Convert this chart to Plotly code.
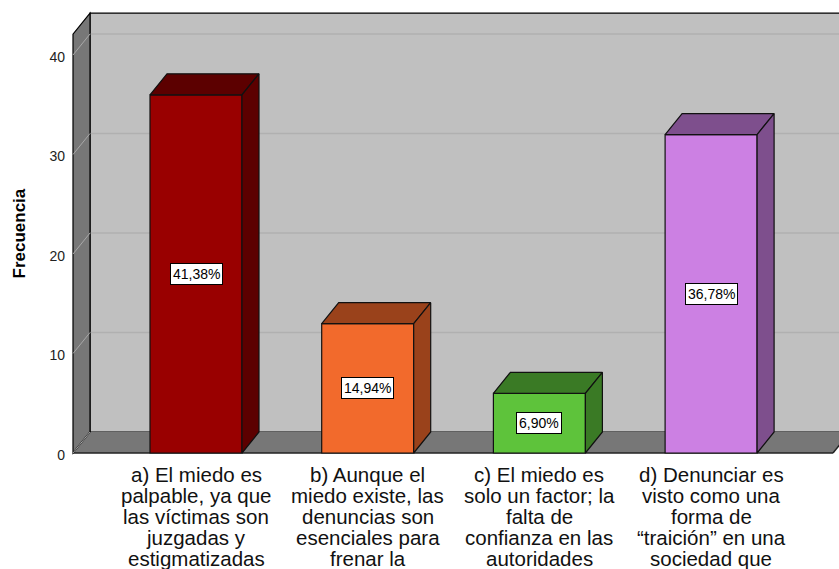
import plotly.graph_objects as go

# ---------------- data ----------------
label_lines = [
    ["a) El miedo es", "palpable, ya que", "las víctimas son", "juzgadas y", "estigmatizadas"],
    ["b) Aunque el", "miedo existe, las", "denuncias son", "esenciales para", "frenar la"],
    ["c) El miedo es", "solo un factor; la", "falta de", "confianza en las", "autoridades"],
    ["d) Denunciar es", "visto como una", "forma de", "“traición” en una", "sociedad que"],
]
frequencies = [36, 13, 6, 32]
y_ticks = [0, 10, 20, 30, 40]
y_title = "Frecuencia"

front_colors = ["#990000", "#F26A2C", "#5EC33B", "#CC80E3"]
shade_colors = ["#5C0000", "#9A421B", "#3A7A25", "#7E4F8D"]

# ---------------- geometry (pixels -> data units) ----------------
W, H = 839, 569
PX_X = 171.7          # px per category
PX_Y = 9.95           # px per frequency unit
ML, MR, MT = 70, 0, 8
PLOT_BOTTOM = 456
MB = H - PLOT_BOTTOM
CENTER0 = 196         # pixel of first category centre
ZERO_PX = 453         # pixel of value 0 (front plane)

XMIN = (ML - CENTER0) / PX_X
XMAX = XMIN + (W - ML - MR) / PX_X
YMIN = -(PLOT_BOTTOM - ZERO_PX) / PX_Y
YMAX = (ZERO_PX - MT) / PX_Y

DX = 17 / PX_X
DY = 21 / PX_Y
BAR_W = 92 / PX_X
X_WALL = (73 - CENTER0) / PX_X
X_RIGHT = (833 - CENTER0) / PX_X
WALL_TOP = 42.1

total = sum(frequencies)
xs = list(range(len(frequencies)))

def poly(pts):
    return "M " + " L ".join(f"{x},{y}" for x, y in pts) + " Z"

shapes = []
# back wall
shapes.append(dict(type="path", xref="x", yref="y", layer="below",
                   path=poly([(X_WALL + DX, DY), (X_WALL + DX, WALL_TOP + DY),
                              (X_RIGHT + DX, WALL_TOP + DY), (X_RIGHT + DX, DY)]),
                   fillcolor="#C0C0C0", line=dict(color="black", width=1.2)))
# back-wall grid lines
for t in y_ticks[1:]:
    shapes.append(dict(type="line", xref="x", yref="y", layer="below",
                       x0=X_WALL + DX, x1=X_RIGHT + DX, y0=t + DY, y1=t + DY,
                       line=dict(color="#B0B0B0", width=1.5)))
# floor
shapes.append(dict(type="path", xref="x", yref="y", layer="below",
                   path=poly([(X_WALL, 0), (X_WALL + DX, DY), (X_RIGHT + DX, DY), (X_RIGHT, 0)]),
                   fillcolor="#777777", line=dict(width=0)))
shapes.append(dict(type="line", xref="x", yref="y", layer="below",
                   x0=X_WALL, x1=X_RIGHT, y0=0, y1=0, line=dict(color="#222222", width=1.5)))
shapes.append(dict(type="line", xref="x", yref="y", layer="below",
                   x0=X_RIGHT, x1=X_RIGHT + DX, y0=0, y1=DY, line=dict(color="#222222", width=1.5)))
# left wall
shapes.append(dict(type="path", xref="x", yref="y", layer="below",
                   path=poly([(X_WALL, 0), (X_WALL, WALL_TOP), (X_WALL + DX, WALL_TOP + DY), (X_WALL + DX, DY)]),
                   fillcolor="#777777", line=dict(color="black", width=1.2)))
for t in y_ticks:
    shapes.append(dict(type="line", xref="x", yref="y", layer="below",
                       x0=X_WALL, x1=X_WALL + DX, y0=t, y1=t + DY,
                       line=dict(color="#A8A8A8", width=1)))

fig = go.Figure()

# front faces
fig.add_trace(go.Bar(x=xs, y=frequencies, width=BAR_W,
                     marker=dict(color=front_colors, line=dict(color="#111111", width=1.2)),
                     hoverinfo="skip", showlegend=False))

# top and side faces
for i, v in enumerate(frequencies):
    x0, x1 = i - BAR_W / 2, i + BAR_W / 2
    top = [(x0, v), (x0 + DX, v + DY), (x1 + DX, v + DY), (x1, v), (x0, v)]
    side = [(x1, 0), (x1 + DX, DY), (x1 + DX, v + DY), (x1, v), (x1, 0)]
    for pts in (top, side):
        fig.add_trace(go.Scatter(x=[p[0] for p in pts], y=[p[1] for p in pts],
                                 mode="lines", fill="toself", fillcolor=shade_colors[i],
                                 line=dict(color="#111111", width=1.2),
                                 hoverinfo="skip", showlegend=False))

annotations = []
# percentage labels
for i, v in enumerate(frequencies):
    txt = f"{v / total * 100:.2f}".replace(".", ",") + "%"
    annotations.append(dict(x=i, y=v / 2, xref="x", yref="y", text=txt, showarrow=False,
                            font=dict(family="Liberation Sans, Arial", size=14, color="black"),
                            bgcolor="white", bordercolor="black", borderwidth=1, borderpad=2))
# category labels
for i, lines in enumerate(label_lines):
    for j, line in enumerate(lines):
        annotations.append(dict(x=i, y=0, xref="x", yref="y", text=line, showarrow=False,
                                yanchor="middle", xanchor="center", yshift=-(21 + 21 * j),
                                font=dict(family="Liberation Sans, Arial", size=20.5, color="#111111")))
# y title
annotations.append(dict(x=0, y=(PLOT_BOTTOM - 233.5) / (PLOT_BOTTOM - MT), xref="paper", yref="paper",
                        xanchor="center", yanchor="middle",
                        xshift=19 - ML, text=f"<b>{y_title}</b>", textangle=-90, showarrow=False,
                        font=dict(family="Liberation Sans, Arial", size=17, color="black")))

fig.update_layout(
    width=W, height=H,
    margin=dict(l=ML, r=MR, t=MT, b=MB),
    paper_bgcolor="white", plot_bgcolor="white",
    shapes=shapes, annotations=annotations,
    xaxis=dict(range=[XMIN, XMAX], showgrid=False, zeroline=False, showticklabels=False,
               showline=False, fixedrange=True),
    yaxis=dict(range=[YMIN, YMAX], tickvals=y_ticks, showgrid=False, zeroline=False,
               showline=False, ticks="", ticklabelstandoff=4, ticklabelshift=2,
               tickfont=dict(family="Liberation Sans, Arial", size=14, color="#222222"),
               fixedrange=True),
    font=dict(family="Liberation Sans, Arial"),
)

fig.write_html("out.html", config={"displayModeBar": False, "staticPlot": True},
               post_script="document.body.style.margin='0';document.body.style.overflow='hidden';")
